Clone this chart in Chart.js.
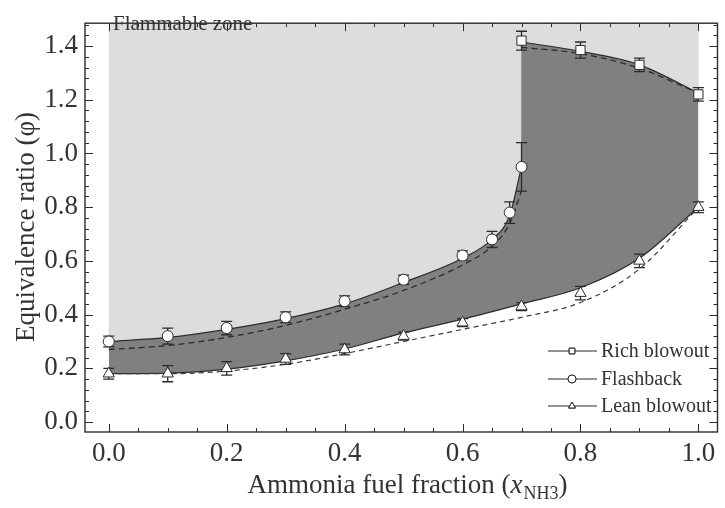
<!DOCTYPE html>
<html>
<head>
<meta charset="utf-8">
<script src="https://cdn.jsdelivr.net/npm/chart.js@4/dist/chart.umd.min.js"></script>
<style>
  html, body { margin: 0; padding: 0; background: #fff; }
  #wrap { width: 725px; height: 508px; }
</style>
</head>
<body>
<div id="wrap"><canvas id="chart" width="725" height="508"></canvas></div>
<script>
// Flashback (circles)
const flashX    = [0, 0.1, 0.2, 0.3, 0.4, 0.5, 0.6, 0.65, 0.68, 0.7];
const flashMeas = [0.30, 0.32, 0.35, 0.39, 0.45, 0.53, 0.62, 0.68, 0.78, 0.95];
const flashErr  = [0.02, 0.03, 0.025, 0.02, 0.02, 0.017, 0.017, 0.03, 0.04, 0.09];
const flashFit  = [0.30, 0.315, 0.345, 0.385, 0.44, 0.52, 0.61, 0.68, 0.77, 0.95];
const flashDash = [0.27, 0.285, 0.315, 0.36, 0.42, 0.49, 0.585, 0.655, 0.74, 0.86];

// Rich blowout (squares)
const richX    = [0.7, 0.8, 0.9, 1.0];
const richMeas = [1.42, 1.385, 1.33, 1.22];
const richErr  = [0.035, 0.03, 0.025, 0.025];
const richFit  = [1.415, 1.38, 1.33, 1.225];
const richDash = [1.395, 1.372, 1.317, 1.225];

// Lean blowout (triangles)
const leanX    = [0, 0.1, 0.2, 0.3, 0.4, 0.5, 0.6, 0.7, 0.8, 0.9, 1.0];
const leanMeas = [0.18, 0.18, 0.20, 0.235, 0.27, 0.32, 0.37, 0.43, 0.48, 0.60, 0.80];
const leanErr  = [0.02, 0.03, 0.025, 0.02, 0.02, 0.015, 0.015, 0.015, 0.025, 0.025, 0.02];
const leanFit  = [0.18, 0.182, 0.197, 0.228, 0.272, 0.332, 0.383, 0.44, 0.50, 0.61, 0.80];
const leanDash = [0.18, 0.18, 0.19, 0.215, 0.255, 0.30, 0.345, 0.39, 0.445, 0.57, 0.80];

const X_MIN = -0.040288, X_MAX = 1.032374;
const Y_MIN = -0.037, Y_MAX = 1.485;

const INK = '#2b2b2b';
const LIGHT = '#dddddd';
const DARK = '#808080';
const SERIF = "'Liberation Serif', 'Times New Roman', serif";

const pts = (xs, ys) => xs.map((x, i) => ({ x, y: ys[i] }));

const markerBase = {
  showLine: false,
  fill: false,
  pointBackgroundColor: '#fff',
  pointBorderColor: INK,
  pointBorderWidth: 1,
};

const fitLine = { borderColor: INK, borderWidth: 1.2, pointRadius: 0, cubicInterpolationMode: 'monotone' };
const dashLine = { borderColor: INK, borderWidth: 1.3, borderDash: [6, 4], pointRadius: 0,
                   cubicInterpolationMode: 'monotone', fill: false, order: 5 };

const datasets = [
  // stable band: everything above lean blowout, dark
  { ...fitLine, label: 'leanFit', data: pts(leanX, leanFit), fill: 'end', backgroundColor: DARK, order: 10 },
  // flammable zone above flashback / rich blowout, light
  { ...fitLine, label: 'flashFit', data: pts(flashX, flashFit), fill: 'end', backgroundColor: LIGHT, order: 9 },
  { ...fitLine, label: 'richFit', data: pts(richX, richFit), fill: 'end', backgroundColor: LIGHT, order: 9 },
  // hides the hairline where the two light fills meet
  { label: 'seam', data: [{ x: richX[0], y: richFit[0] }, { x: richX[0], y: Y_MAX }],
    borderColor: LIGHT, borderWidth: 1.5, pointRadius: 0, fill: false, order: 8 },
  // dashed model lines
  { ...dashLine, label: 'flashDash', data: pts(flashX, flashDash) },
  { ...dashLine, label: 'richDash', data: pts(richX, richDash) },
  { ...dashLine, label: 'leanDash', data: pts(leanX, leanDash), borderColor: '#3a3a3a', borderWidth: 1.2, borderDash: [5, 4] },
  // measured points
  { ...markerBase, label: 'Rich blowout', data: pts(richX, richMeas), pointStyle: 'rect', pointRadius: 6.5, order: 3 },
  { ...markerBase, label: 'Flashback', data: pts(flashX, flashMeas), pointStyle: 'circle', pointRadius: 5.5, order: 2 },
  { ...markerBase, label: 'Lean blowout', data: pts(leanX, leanMeas), pointStyle: 'triangle', pointRadius: 6.5, order: 1 },
];

const errorSets = [
  { xs: richX, ys: richMeas, err: richErr },
  { xs: flashX, ys: flashMeas, err: flashErr },
  { xs: leanX, ys: leanMeas, err: leanErr },
];

// error bars go right before the first marker dataset is drawn
const errorBars = {
  id: 'errorBars',
  beforeDatasetDraw(chart, args) {
    if (chart.data.datasets[args.index].label !== 'Rich blowout') return;
    const { ctx, scales: { x, y } } = chart;
    ctx.save();
    ctx.strokeStyle = INK;
    ctx.lineWidth = 1.3;
    errorSets.forEach(s => {
      s.xs.forEach((xv, i) => {
        const px = x.getPixelForValue(xv);
        const top = y.getPixelForValue(s.ys[i] + s.err[i]);
        const bot = y.getPixelForValue(s.ys[i] - s.err[i]);
        ctx.beginPath();
        ctx.moveTo(px, top); ctx.lineTo(px, bot);
        ctx.moveTo(px - 5.5, top); ctx.lineTo(px + 5.5, top);
        ctx.moveTo(px - 5.5, bot); ctx.lineTo(px + 5.5, bot);
        ctx.stroke();
      });
    });
    ctx.restore();
  }
};

// frame, inward ticks, labels and legend
const decorations = {
  id: 'decorations',
  afterDraw(chart) {
    const { ctx, chartArea: a, scales: { x, y } } = chart;
    ctx.save();
    ctx.strokeStyle = INK;
    ctx.lineWidth = 1.4;
    ctx.strokeRect(a.left, a.top, a.right - a.left, a.bottom - a.top);

    ctx.lineWidth = 1;
    ctx.beginPath();
    for (let i = 0; i <= 20; i++) {
      const px = Math.round(x.getPixelForValue(i * 0.05)) + 0.5;
      const len = i % 4 === 0 ? 8 : 4;
      ctx.moveTo(px, a.bottom); ctx.lineTo(px, a.bottom - len);
      ctx.moveTo(px, a.top); ctx.lineTo(px, a.top + len);
    }
    for (let i = 0; i <= 37; i++) {
      const py = Math.round(y.getPixelForValue(i * 0.04)) + 0.5;
      const len = i % 5 === 0 ? 8 : 4;
      ctx.moveTo(a.left, py); ctx.lineTo(a.left + len, py);
      ctx.moveTo(a.right, py); ctx.lineTo(a.right - len, py);
    }
    ctx.stroke();

    // zone label
    ctx.fillStyle = '#333';
    ctx.font = `21px ${SERIF}`;
    ctx.textAlign = 'left';
    ctx.textBaseline = 'alphabetic';
    ctx.fillText('Flammable zone', 113, 30);

    // legend
    const legend = [
      { text: 'Rich blowout', style: 'rect', y: 351 },
      { text: 'Flashback', style: 'circle', y: 379 },
      { text: 'Lean blowout', style: 'triangle', y: 406 },
    ];
    ctx.font = `20px ${SERIF}`;
    ctx.textBaseline = 'middle';
    legend.forEach(item => {
      ctx.strokeStyle = INK;
      ctx.lineWidth = 1.2;
      ctx.beginPath();
      ctx.moveTo(548, item.y); ctx.lineTo(597, item.y);
      ctx.stroke();
      ctx.fillStyle = '#fff';
      ctx.lineWidth = 1;
      Chart.helpers.drawPoint(ctx, { pointStyle: item.style, radius: 4, borderWidth: 1 }, 572, item.y);
      ctx.fill();
      ctx.stroke();
      ctx.fillStyle = '#333';
      ctx.fillText(item.text, 601, item.y + 1);
    });

    // x axis title with subscript
    ctx.textBaseline = 'alphabetic';
    const main = 'Ammonia fuel fraction (';
    const fMain = `27px ${SERIF}`, fItal = `italic 27px ${SERIF}`, fSub = `18px ${SERIF}`;
    ctx.font = fMain; const w1 = ctx.measureText(main).width; const w4 = ctx.measureText(')').width;
    ctx.font = fItal; const w2 = ctx.measureText('x').width;
    ctx.font = fSub;  const w3 = ctx.measureText('NH3').width;
    let cx = 407 - (w1 + w2 + w3 + w4) / 2;
    const base = 493;
    ctx.fillStyle = '#333';
    ctx.font = fMain; ctx.fillText(main, cx, base); cx += w1;
    ctx.font = fItal; ctx.fillText('x', cx, base); cx += w2 + 1;
    ctx.font = fSub;  ctx.fillText('NH3', cx, base + 6); cx += w3;
    ctx.font = fMain; ctx.fillText(')', cx, base);

    // y axis title
    ctx.save();
    ctx.translate(34, 227);
    ctx.rotate(-Math.PI / 2);
    ctx.textAlign = 'center';
    ctx.font = fMain;
    ctx.fillText('Equivalence ratio (\u03c6)', 0, 0);
    ctx.restore();

    ctx.restore();
  }
};

new Chart(document.getElementById('chart'), {
  type: 'line',
  data: { datasets },
  options: {
    responsive: false,
    animation: false,
    layout: { padding: { top: 8, right: 1, left: 0, bottom: 0 } },
    plugins: { legend: { display: false }, tooltip: { enabled: false } },
    scales: {
      x: {
        type: 'linear', min: X_MIN, max: X_MAX,
        grid: { display: false, drawTicks: false }, border: { display: false },
        ticks: { stepSize: 0.2, includeBounds: false, padding: 6, color: '#333',
                 font: { family: SERIF, size: 27 }, maxRotation: 0,
                 callback: v => v.toFixed(1) },
        afterFit: s => { s.height = 76; }
      },
      y: {
        type: 'linear', min: Y_MIN, max: Y_MAX,
        grid: { display: false, drawTicks: false }, border: { display: false },
        ticks: { stepSize: 0.2, includeBounds: false, padding: 7, color: '#333',
                 font: { family: SERIF, size: 27 },
                 callback: v => v.toFixed(1) },
        afterFit: s => { s.width = 85; }
      }
    }
  },
  plugins: [errorBars, decorations]
});
</script>
</body>
</html>
